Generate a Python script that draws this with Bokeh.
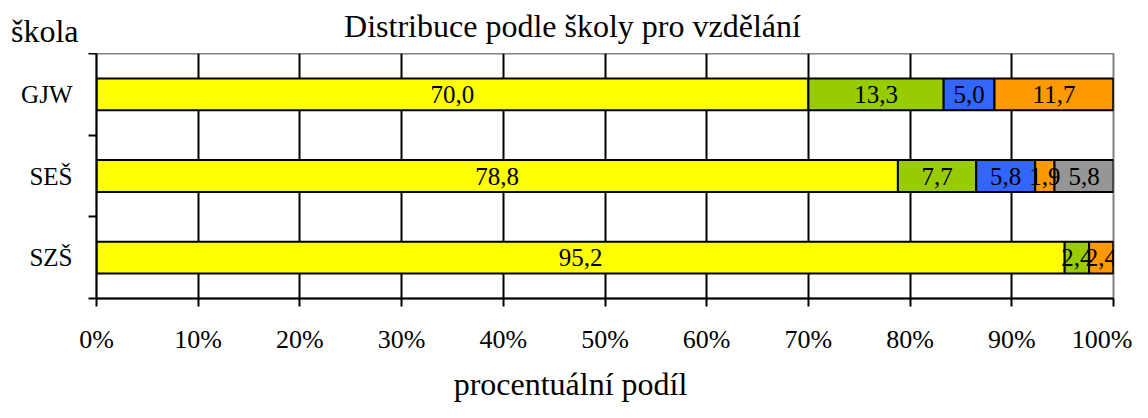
from bokeh.plotting import figure
from bokeh.models import ColumnDataSource, FixedTicker
from bokeh.layouts import column
from bokeh.core.properties import value
from bokeh.embed import file_html
from bokeh.resources import INLINE

schools = ["GJW", "SEŠ", "SZŠ"]
school_pos = [2.5, 1.5, 0.5]
segments = ["s1", "s2", "s3", "s4", "s5"]
s1 = [70.0, 78.8, 95.2]
s2 = [13.3, 7.7, 2.4]
s3 = [5.0, 5.8, 0.0]
s4 = [11.7, 1.9, 2.4]
s5 = [0.0, 5.8, 0.0]
colors = ["#FFFF00", "#99CC00", "#3366FF", "#FF9900", "#969696"]
x_ticks = [0, 10, 20, 30, 40, 50, 60, 70, 80, 90, 100]
x_tick_labels = ["0%", "10%", "20%", "30%", "40%", "50%", "60%", "70%", "80%", "90%", "100%"]
title_text = "Distribuce podle školy pro vzdělání"
x_title = "procentuální podíl"
y_title = "škola"

FONT = "Liberation Serif"
W = 1132
LEFT = 96
RIGHT = 19


def text_strip(height, items, with_axis=False):
    f = figure(width=W, height=height, output_backend="svg", toolbar_location=None,
               x_range=(LEFT, W - RIGHT), y_range=(0, height), x_axis_type=None,
               y_axis_type="linear" if with_axis else None,
               min_border_left=LEFT, min_border_right=RIGHT,
               min_border_top=0, min_border_bottom=0)
    f.outline_line_color = None
    f.grid.visible = False
    f.background_fill_color = "white"
    f.border_fill_color = "white"
    for x, y, t, align in items:
        f.text(x=[x], y=[y], text=[t], text_font=value(FONT), text_font_size=value("32px"),
               text_align=align, text_baseline="middle", text_color="black")
    return f


header = text_strip(53, [(572, 28, title_text, "center")], with_axis=True)
header.yaxis.ticker = FixedTicker(ticks=[23], minor_ticks=[])
header.yaxis.major_label_overrides = {23: y_title}
header.yaxis.major_label_text_font = FONT
header.yaxis.major_label_text_font_size = "32px"
header.yaxis.major_label_text_color = "black"
header.yaxis.axis_line_color = None
header.yaxis.major_tick_line_color = None
header.yaxis.minor_tick_line_color = None
header.yaxis.major_tick_in = 0
header.yaxis.major_tick_out = 0
header.yaxis.major_label_standoff = 18

src = ColumnDataSource(dict(y=school_pos, s1=s1, s2=s2, s3=s3, s4=s4, s5=s5))

p = figure(width=W, height=307, output_backend="svg", toolbar_location=None,
           x_range=(0, 100), y_range=(0, 3),
           min_border_left=LEFT, min_border_right=RIGHT, min_border_top=0, min_border_bottom=62)
p.outline_line_color = "#808080"
p.outline_line_width = 2
p.background_fill_color = "white"
p.border_fill_color = "white"

p.hbar_stack(segments, y="y", height=0.39, color=colors, source=src,
             line_color="black", line_width=2)

# segment labels
lx, ly, lt = [], [], []
series = [s1, s2, s3, s4, s5]
for i, yv in enumerate(school_pos):
    left = 0.0
    for s in series:
        v = s[i]
        if v > 0:
            lx.append(left + v / 2)
            ly.append(yv)
            lt.append(f"{v:.1f}".replace(".", ","))
        left += v
lsrc = ColumnDataSource(dict(x=lx, y=ly, t=lt))
p.text(x="x", y="y", text="t", source=lsrc, text_font=value(FONT),
       text_font_size=value("25px"), text_align="center", text_baseline="middle",
       text_color="black")

# x axis
p.xaxis.ticker = FixedTicker(ticks=x_ticks, minor_ticks=[])
p.xaxis.major_label_overrides = {t: l for t, l in zip(x_ticks, x_tick_labels)}
p.xaxis.major_label_text_font = FONT
p.xaxis.major_label_text_font_size = "26px"
p.xaxis.major_label_text_color = "black"
p.xaxis.axis_line_color = "black"
p.xaxis.axis_line_width = 2
p.xaxis.major_tick_line_color = "black"
p.xaxis.major_tick_line_width = 2
p.xaxis.major_tick_in = 0
p.xaxis.major_tick_out = 8
p.xaxis.minor_tick_line_color = None
p.xaxis.major_label_standoff = 18

# y axis
p.yaxis.ticker = FixedTicker(ticks=school_pos, minor_ticks=[0, 1, 2, 3])
p.yaxis.major_label_overrides = {t: l for t, l in zip(school_pos, schools)}
p.yaxis.major_label_text_font = FONT
p.yaxis.major_label_text_font_size = "25px"
p.yaxis.major_label_text_color = "black"
p.yaxis.axis_line_color = "black"
p.yaxis.axis_line_width = 2
p.yaxis.major_tick_line_color = None
p.yaxis.major_tick_in = 0
p.yaxis.major_tick_out = 0
p.yaxis.minor_tick_line_color = "black"
p.yaxis.minor_tick_line_width = 2
p.yaxis.minor_tick_in = 0
p.yaxis.minor_tick_out = 8
p.yaxis.major_label_standoff = 16

# grids
p.ygrid.grid_line_color = None
p.xgrid.ticker = FixedTicker(ticks=x_ticks[1:-1])
p.xgrid.grid_line_color = "black"
p.xgrid.grid_line_width = 2

footer = text_strip(42, [(570, 19, x_title, "center")])

layout = column(header, p, footer, spacing=0)
open("out.html", "w").write(file_html(layout, INLINE))
